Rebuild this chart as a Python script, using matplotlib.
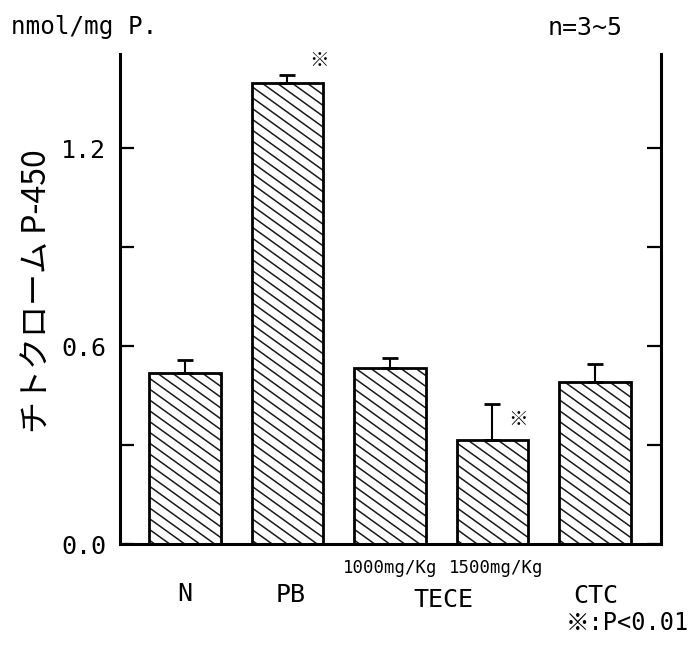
import matplotlib
matplotlib.use("Agg")
import matplotlib.pyplot as plt
from matplotlib.collections import LineCollection
from matplotlib.transforms import IdentityTransform
import numpy as np

groups = ["N", "PB", "TECE 1000mg/Kg", "TECE 1500mg/Kg", "CTC"]
values = [0.518, 1.397, 0.534, 0.315, 0.490]
errors = [0.040, 0.024, 0.031, 0.109, 0.055]
significant = [False, True, False, True, False]
yticks_major = [0.0, 0.6, 1.2]
yticks_minor = [0.3, 0.9]

FONT = ['DejaVu Sans Mono', 'Noto Sans CJK JP']
CJK = ['Noto Sans CJK JP', 'DejaVu Sans']

W, H = 691, 648
fig = plt.figure(figsize=(W / 100, H / 100), dpi=100)
ax = fig.add_axes([120 / W, 1 - 544 / H, 541 / W, 490 / H])

x = np.arange(len(values))
ax.set_xlim(-0.634, 4.644)
ax.set_ylim(0, 1.485)

fills = ax.bar(x, values, width=0.70, color='white', edgecolor='none', zorder=2)

# custom diagonal hatching (shallower than 45 degrees, like the original)
slope = 0.72
spacing = 10.8
for bar in fills:
    bb = bar.get_window_extent()
    x0, y0, x1, y1 = bb.x0, bb.y0, bb.x1, bb.y1
    drop = slope * (x1 - x0)
    segs = []
    c = y0 + 4
    while c < y1 + drop:
        segs.append([(x0, c), (x1, c - drop)])
        c += spacing
    lc = LineCollection(segs, colors='#1a1a1a', linewidths=1.1,
                        transform=IdentityTransform(), zorder=2.5)
    ax.add_collection(lc, autolim=False)
    lc.set_clip_box(None)
    lc.set_clip_path(bar)

ax.bar(x, values, width=0.70, fill=False, edgecolor='black',
       linewidth=2.0, zorder=3)
ax.errorbar(x, values, yerr=[np.zeros(len(errors)), errors], fmt='none',
            ecolor='black', elinewidth=1.5, capsize=6, capthick=2.0, zorder=3)

# significance marks
sig_offsets = {1: (0.31, 0.045), 3: (0.25, -0.048)}
for i, s in enumerate(significant):
    if s:
        dx, dy = sig_offsets[i]
        ax.text(x[i] + dx, values[i] + errors[i] + dy, "※", fontsize=14,
                family=CJK, ha='center', va='center')

ax.set_yticks(yticks_major)
ax.set_yticklabels([f"{t:.1f}" for t in yticks_major], family=FONT, fontsize=18)
ax.set_yticks(yticks_minor, minor=True)
ax.tick_params(axis='y', which='both', direction='in', length=10, width=1.6,
               right=True, pad=10)
ax.set_xticks([])
for side in ['left', 'right', 'bottom']:
    ax.spines[side].set_linewidth(2.2)
ax.spines['top'].set_visible(False)

fig.text(38 / W, 1 - 291 / H, "チトクローム P-450", family=CJK, fontsize=23,
         rotation=90, ha='center', va='center')

# group labels
fig.text(390 / W, 1 - 568 / H, "1000mg/Kg", ha='center', va='center',
         fontsize=12.5, family=FONT)
fig.text(496 / W, 1 - 568 / H, "1500mg/Kg", ha='center', va='center',
         fontsize=12.5, family=FONT)
fig.text(185 / W, 1 - 594 / H, "N", ha='center', va='center', fontsize=18, family=FONT)
fig.text(291 / W, 1 - 595 / H, "PB", ha='center', va='center', fontsize=18, family=FONT)
fig.text(443 / W, 1 - 600 / H, "TECE", ha='center', va='center', fontsize=18, family=FONT)
fig.text(596 / W, 1 - 596 / H, "CTC", ha='center', va='center', fontsize=18, family=FONT)
fig.text(689 / W, 1 - 623 / H, "※:P<0.01", ha='right', va='center', fontsize=17, family=FONT)

fig.text(11 / W, 1 - 27 / H, "nmol/mg P.", ha='left', va='center', fontsize=17.5, family=FONT)
fig.text(623 / W, 1 - 28 / H, "n=3~5", ha='right', va='center', fontsize=18, family=FONT)

fig.savefig("out.png", dpi=100)
